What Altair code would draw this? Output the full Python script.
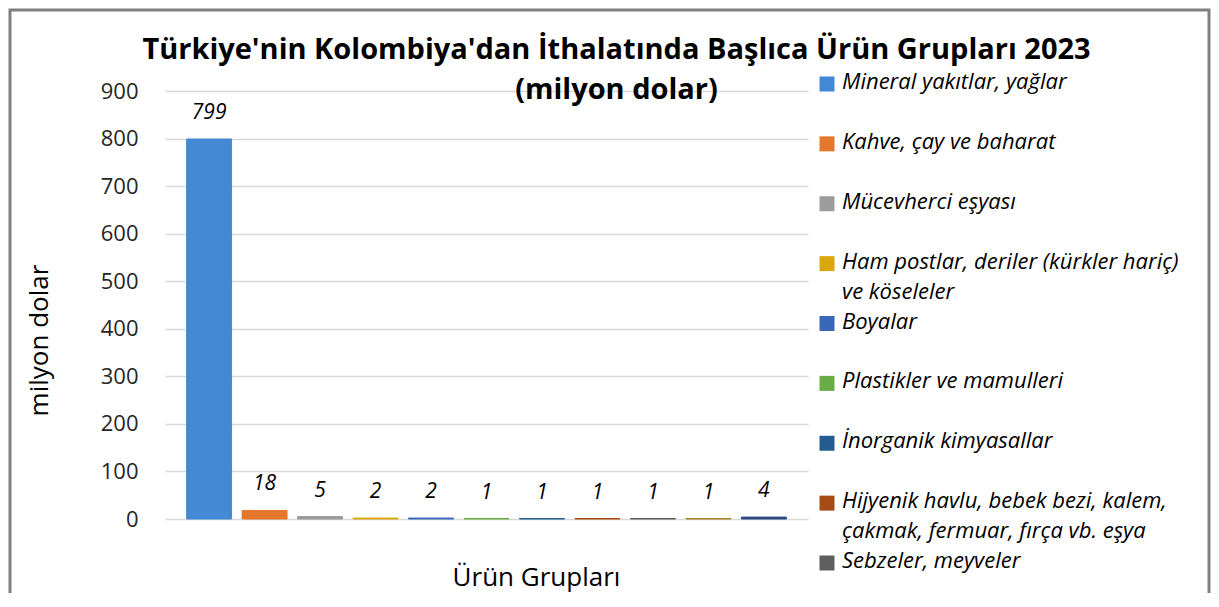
import altair as alt
import pandas as pd

categories = [
    "Mineral yakıtlar, yağlar",
    "Kahve, çay ve baharat",
    "Mücevherci eşyası",
    "Ham postlar, deriler (kürkler hariç) ve köseleler",
    "Boyalar",
    "Plastikler ve mamulleri",
    "İnorganik kimyasallar",
    "Hijyenik havlu, bebek bezi, kalem, çakmak, fermuar, fırça vb. eşya",
    "Sebzeler, meyveler",
    "Canlı ağaçlar ve bitkiler",
    "Diğer",
]
values = [799, 18, 5, 2, 2, 1, 1, 1, 1, 1, 4]
colors = [
    "#4389D4", "#E5772B", "#9C9C9C", "#D9A60C", "#3A67B8", "#6AAC46",
    "#245C90", "#A64B16", "#5E5E5E", "#A88420", "#2B4A80",
]
# legend entries visible in the reference (the box is cut after 9 entries)
legend_labels = [
    "Mineral yakıtlar, yağlar",
    "Kahve, çay ve baharat",
    "Mücevherci eşyası",
    "Ham postlar, deriler (kürkler hariç)\nve köseleler",
    "Boyalar",
    "Plastikler ve mamulleri",
    "İnorganik kimyasallar",
    "Hijyenik havlu, bebek bezi, kalem,\nçakmak, fermuar, fırça vb. eşya",
    "Sebzeler, meyveler",
]
y_ticks = [0, 100, 200, 300, 400, 500, 600, 700, 800, 900]

FONT = "Open Sans"

df = pd.DataFrame({"kategori": categories, "deger": values})
leg = pd.DataFrame({"kategori": categories[: len(legend_labels)], "etiket": legend_labels})

color = alt.Color("kategori:N", scale=alt.Scale(domain=categories, range=colors), legend=None)
stroke = alt.Stroke("kategori:N", scale=alt.Scale(domain=categories, range=colors), legend=None)

x_enc = alt.X(
    "kategori:N",
    sort=categories,
    scale=alt.Scale(paddingInner=0.19, paddingOuter=0.39),
    axis=alt.Axis(
        title="Ürün Grupları", labels=False, ticks=False, domain=False, grid=False,
        titleFont=FONT, titleFontSize=26, titleFontWeight="normal", titleColor="#000000",
        titleX=371, titleY=58, titleAlign="center", titleBaseline="middle",
    ),
)
y_enc = alt.Y(
    "deger:Q",
    scale=alt.Scale(domain=[0, 900], nice=False),
    axis=alt.Axis(
        values=y_ticks, title="milyon dolar", domain=False, ticks=False,
        grid=True, gridColor="#D9D9D9", gridWidth=1.5,
        labelFont=FONT, labelFontSize=22, labelColor="#262626", labelPadding=27,
        titleFont=FONT, titleFontSize=26, titleFontWeight="normal", titleColor="#000000",
        titleX=-126, titleY=249, titleAlign="center", titleBaseline="middle",
    ),
)

frame = alt.Chart(alt.Data(values=[{}])).mark_rect(
    fill="white", fillOpacity=0, stroke="#808080", strokeWidth=3
).encode(
    x=alt.value(-155), x2=alt.value(1044), y=alt.value(-81), y2=alt.value(700)
)

bars = alt.Chart(df).mark_bar(strokeWidth=1).encode(
    x=x_enc, y=y_enc, color=color, stroke=stroke
)

labels = alt.Chart(df).mark_text(
    font=FONT, fontSize=21, fontStyle="italic", baseline="middle", dy=-26, color="#000000"
).encode(x=alt.X("kategori:N", sort=categories), y=alt.Y("deger:Q"), text="deger:Q")

main = alt.layer(bars, labels)

leg_y = alt.Y(
    "kategori:N",
    sort=categories[: len(legend_labels)],
    scale=alt.Scale(type="point", range=[-7, 472], padding=0),
    axis=None,
)
squares = alt.Chart(leg).mark_square(size=225, opacity=1).encode(
    x=alt.value(662), y=leg_y, color=color
)
leg_text = alt.Chart(leg).mark_text(
    align="left", baseline="top", dy=-12, lineBreak="\n", lineHeight=30,
    font=FONT, fontStyle="italic", fontSize=22, color="#000000"
).encode(x=alt.value(677), y=leg_y, text="etiket:N")

chart = alt.layer(frame, main, squares, leg_text).resolve_scale(
    y="independent"
).properties(
    width=643,
    height=428,
    padding={"left": 157, "top": 83, "right": 403, "bottom": 74},
    autosize=alt.AutoSizeParams(type="none"),
    title=alt.Title(
        ["Türkiye'nin Kolombiya'dan İthalatında Başlıca Ürün Grupları 2023", "(milyon dolar)"],
        font=FONT, fontSize=29, fontWeight="bold", color="#000000",
        anchor="middle", frame="group", dx=130, dy=96, offset=0, lineHeight=40,
    ),
).configure_view(stroke=None)

chart.save("out.html", embed_options={"renderer": "svg", "actions": False})
